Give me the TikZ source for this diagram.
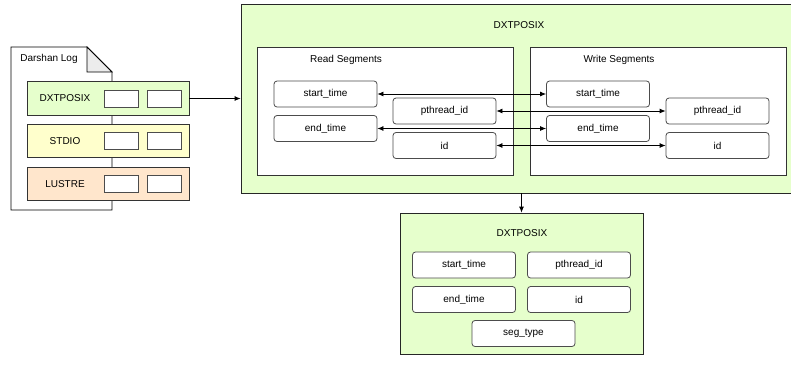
\documentclass[tikz,border=0pt]{standalone}
\usepackage{fontspec}
\setmainfont{Liberation Sans}
\usetikzlibrary{arrows.meta}
\definecolor{dxtgreen}{HTML}{E6FFCC}
\definecolor{stdioyellow}{HTML}{FFFFCC}
\definecolor{lustrepeach}{HTML}{FFE6CC}

\begin{document}
\begin{tikzpicture}[x=1pt,y=-1pt,line width=0.8pt,
	font=\fontsize{10}{12}\selectfont,
	field/.style={draw=black!70,fill=white,rounded corners=3pt,minimum width=103pt,minimum height=26pt,inner sep=0pt},
	slot/.style={draw=black!70,fill=white,minimum width=34pt,minimum height=17pt,inner sep=0pt},
	module/.style={draw=black!80,minimum width=162pt,minimum height=33.5pt,inner sep=0pt},
	segbox/.style={draw=black!80,fill=white,minimum width=256pt,minimum height=128pt,inner sep=0pt},
	tip/.style={-{Latex[length=6pt,width=5pt]}},
	twotip/.style={{Latex[length=6pt,width=5pt]}-{Latex[length=6pt,width=5pt]}}]
	\useasboundingbox (0,0) rectangle (791,365);
	%Darshan log file
		%Page with folded corner
		\draw [fill=white] (11,47) -- (87,47) -- (112,72) -- (112,210) -- (11,210) -- cycle;
		\draw [fill=gray!15] (87,47) -- (87,72) -- (112,72) -- cycle;
		\node (logname) at (49,59) {Darshan Log};
		%DXTPOSIX module
		\node [module,fill=dxtgreen] (posixrow) at (108,98.5) {};
		\node (posixname) at (65,98.5) {DXTPOSIX};
		\node [slot] (posixa) at (121,98.5) {};
		\node [slot] (posixb) at (164,98.5) {};
		%STDIO module
		\node [module,fill=stdioyellow] (stdiorow) at (108,141) {};
		\node (stdioname) at (65,141) {STDIO};
		\node [slot] (stdioa) at (121,141) {};
		\node [slot] (stdiob) at (164,141) {};
		%LUSTRE module
		\node [module,fill=lustrepeach] (lustrerow) at (108,184) {};
		\node (lustrename) at (65,184) {LUSTRE};
		\node [slot] (lustrea) at (121,184) {};
		\node [slot] (lustreb) at (164,184) {};
	%DXTPOSIX segments
		\node [draw=black!85,fill=dxtgreen,minimum width=556pt,minimum height=189pt,inner sep=0pt] (dxtbox) at (519,98.5) {};
		\node (dxtname) at (519,25) {DXTPOSIX};
		%Arrow from log
		\draw [tip] (posixrow.east) -- (posixrow.east -| dxtbox.west);
		%Read segments
		\node [segbox] (readbox) at (385,111) {};
		\node (readname) at (346,60) {Read Segments};
		\node [field] (rstart) at (325.5,94) {start\_time};
		\node [field] (rend) at (325.5,128.5) {end\_time};
		\node [field] (rpid) at (444.5,111) {pthread\_id};
		\node [field] (rid) at (444.5,145.5) {id};
		%Write segments
		\node [segbox] (writebox) at (658,111) {};
		\node (writename) at (619,60) {Write Segments};
		\node [field] (wstart) at (598,94) {start\_time};
		\node [field] (wend) at (598,128.5) {end\_time};
		\node [field] (wpid) at (717.5,111) {pthread\_id};
		\node [field] (wid) at (717.5,145.5) {id};
		%Links between read and write
		\draw [twotip] (rstart.east) -- (wstart.west);
		\draw [twotip] (rpid.east) -- (wpid.west);
		\draw [twotip] (rend.east) -- (wend.west);
		\draw [twotip] (rid.east) -- (wid.west);
	%Merged DXTPOSIX
		\node [draw=black!85,fill=dxtgreen,minimum width=243pt,minimum height=141pt,inner sep=0pt] (resbox) at (521.5,283.5) {};
		\node (resname) at (522,233) {DXTPOSIX};
		\node [field] (mstart) at (464,265) {start\_time};
		\node [field] (mpid) at (579,265) {pthread\_id};
		\node [field] (mend) at (464,299.5) {end\_time};
		\node [field] (mid) at (579,299.5) {id};
		\node [field] (mtype) at (523.5,333.5) {seg\_type};
		%Arrow down
		\draw [tip] (dxtbox.south -| resbox.north) -- (resbox.north);
\end{tikzpicture}
\end{document}
